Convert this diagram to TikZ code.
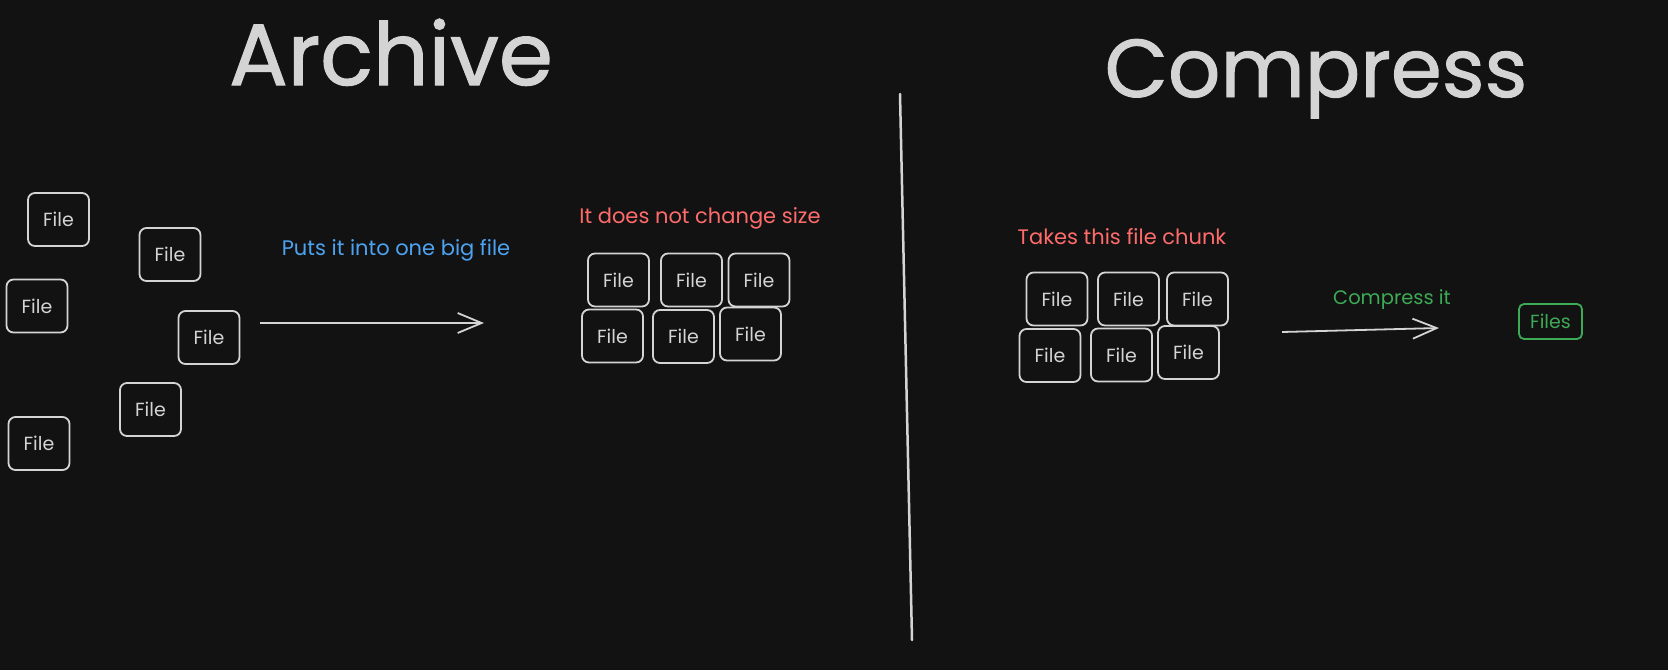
\documentclass[tikz,border=0pt]{standalone}
\usepackage{fontspec}
\setmainfont{Poppins}
\newfontfamily\headfont[FakeBold=1.2]{Poppins}
\usepackage{tikz}
\usetikzlibrary{positioning, arrows.meta}

\definecolor{bgdark}{HTML}{121212}
\definecolor{inkgray}{HTML}{D4D4D4}
\definecolor{notered}{HTML}{FF6B6B}
\definecolor{noteblue}{HTML}{4DA3F0}
\definecolor{notegreen}{HTML}{3DAA55}

\begin{document}
\begin{tikzpicture}[
    x=1pt, y=-1pt,
    filebox/.style={draw=inkgray, line width=1.8pt, rounded corners=7pt, minimum width=61pt, minimum height=53pt, inner sep=0pt, text=inkgray, font=\fontsize{19}{22}\selectfont},
    headline/.style={text=inkgray, anchor=base, inner sep=0pt, font=\headfont\fontsize{87}{100}\selectfont},
    note/.style={inner sep=0pt, font=\fontsize{21}{24}\selectfont},
    sketch/.style={draw=inkgray, line width=1.8pt, -{Straight Barb[length=24pt, width=20pt, line width=1.8pt]}}
]

% Canvas
\fill[bgdark] (0,0) rectangle (1668,670);
\useasboundingbox (0,0) rectangle (1668,670);

% Titles
\node[headline] (archive) at (391,85) {Archive};
\node[headline, font=\headfont\fontsize{82}{100}\selectfont] (compress) at (1316,97) {Compress};

% Divider
\draw[inkgray, line width=2.5pt, line cap=round] (900,94) -- (912,640);

% Loose files (left)
\foreach \n/\x/\y in {a/58.5/219.5, b/170/254.5, c/37/306, d/209/337.5, e/150.5/409.5, f/39/443.5} {
    \node[filebox] (loose\n) at (\x,\y) {File};
}

% Archived chunk
\foreach \n/\x/\y in {a/618.5/280, b/691.5/280, c/759/280, d/612.5/336, e/683.5/336.5, f/750.5/334} {
    \node[filebox] (tar\n) at (\x,\y) {File};
}

% Chunk to compress
\foreach \n/\x/\y in {a/1057/299, b/1128.5/299, c/1197.5/299, d/1050/355.5, e/1121.5/355, f/1188.5/352.5} {
    \node[filebox] (chunk\n) at (\x,\y) {File};
}

% Compressed result
\node[filebox, draw=notegreen, text=notegreen, minimum width=63pt, minimum height=35pt, rounded corners=5pt] (packed) at (1550.5,321.5) {Files};

% Arrows
\coordinate (putsfrom) at (260,323);
\coordinate (putsto) at (484,323);
\draw[sketch] (putsfrom) -- (putsto);

\coordinate (squeezefrom) at (1282,332);
\coordinate (squeezeto) at (1439,328);
\draw[sketch] (squeezefrom) -- (squeezeto);

% Notes
\node[note, text=noteblue] (putsnote) at (396,250) {Puts it into one big file};
\node[note, text=notered] (sizenote) at (700,218) {It does not change size};
\node[note, text=notered] (chunknote) at (1122,237) {Takes this file chunk};
\node[note, text=notegreen, font=\fontsize{19.5}{24}\selectfont] (squeezenote) at (1392,300) {Compress it};

\end{tikzpicture}
\end{document}
